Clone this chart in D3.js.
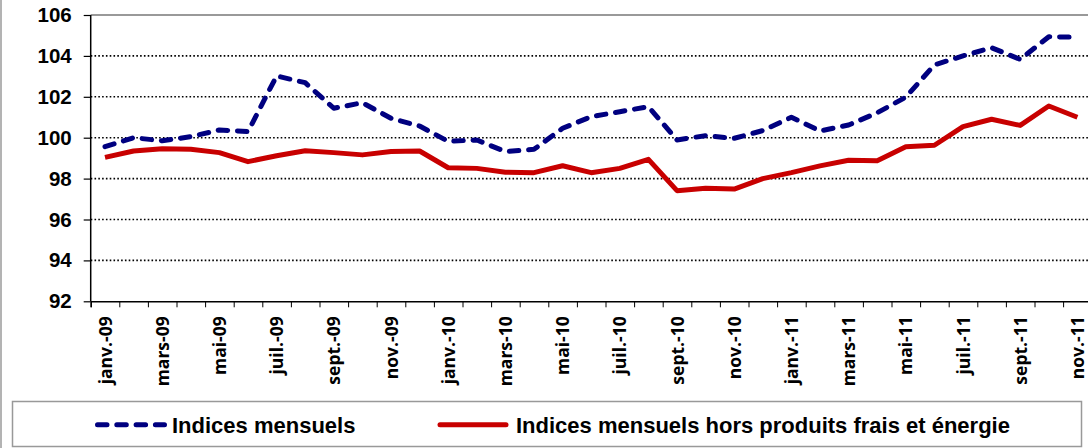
<!DOCTYPE html>
<html><head><meta charset="utf-8">
<script src="https://cdn.jsdelivr.net/npm/d3@7"></script>
<style>
html,body{margin:0;padding:0;background:#fff;}
svg{display:block;}
</style></head>
<body>
<svg id="chart" width="1088" height="448"></svg>
<script>
const months = ["janv.-09","févr.-09","mars-09","avr.-09","mai-09","juin-09","juil.-09","août-09","sept.-09","oct.-09","nov.-09","déc.-09",
"janv.-10","févr.-10","mars-10","avr.-10","mai-10","juin-10","juil.-10","août-10","sept.-10","oct.-10","nov.-10","déc.-10",
"janv.-11","févr.-11","mars-11","avr.-11","mai-11","juin-11","juil.-11","août-11","sept.-11","oct.-11","nov.-11"];
const indicesMensuels = [99.56,100.0,99.85,100.05,100.38,100.3,103.02,102.69,101.44,101.71,100.95,100.57,
99.82,99.89,99.32,99.43,100.46,101.03,101.27,101.52,99.89,100.1,99.97,100.35,
101.0,100.33,100.62,101.22,101.98,103.56,104.0,104.4,103.83,104.94,104.91];
const indicesHorsPFE = [99.04,99.35,99.46,99.43,99.27,98.83,99.12,99.36,99.27,99.16,99.33,99.35,
98.53,98.5,98.31,98.29,98.63,98.29,98.5,98.94,97.41,97.53,97.49,98.0,
98.29,98.62,98.9,98.87,99.56,99.63,100.54,100.9,100.6,101.55,101.0];
const yTicks = [92,94,96,98,100,102,104,106];
const seriesNames = ["Indices mensuels","Indices mensuels hors produits frais et énergie"];

const svg = d3.select("#chart");
const L = 90.7, R = 1091.7, T = 15, B = 301.3;
const x = d3.scaleBand().domain(months).range([L, R]).padding(0);
const xi = d3.scaleLinear().domain([0, months.length]).range([L, R]);
const y = d3.scaleLinear().domain([92, 106]).range([B, T]);

// outer border left
svg.append("line").attr("x1",1).attr("x2",1).attr("y1",0).attr("y2",448)
  .attr("stroke","#9a9a9a").attr("stroke-width",1.5);

// gridlines
svg.append("g").selectAll("line").data(yTicks.filter(d => d > 92 && d < 106)).join("line")
  .attr("x1", L).attr("x2", R).attr("y1", d => y(d)).attr("y2", d => y(d))
  .attr("stroke","#000").attr("stroke-width",1.6).attr("stroke-dasharray","1.6,2.2");
// top border
svg.append("line").attr("x1",L).attr("x2",R).attr("y1",y(106)).attr("y2",y(106))
  .attr("stroke","#999").attr("stroke-width",2);

// y axis
const yAxis = svg.append("g").attr("transform",`translate(${L},0)`)
  .call(d3.axisLeft(y).tickValues(yTicks).tickSize(7).tickPadding(12).tickFormat(d3.format("d")));
yAxis.select(".domain").remove();
yAxis.selectAll(".tick line").attr("stroke","#000").attr("stroke-width",1.2);
yAxis.selectAll("text").attr("font-family","'Liberation Sans', Arial, sans-serif")
  .attr("font-weight","bold").attr("font-size","20.5px").attr("fill","#000");
svg.append("line").attr("x1",L).attr("x2",L).attr("y1",T).attr("y2",B)
  .attr("stroke","#000").attr("stroke-width",1.5);

// x axis: boundary ticks
const xTickAxis = svg.append("g").attr("transform",`translate(0,${B})`)
  .call(d3.axisBottom(xi).tickValues(d3.range(0, months.length + 1)).tickSize(6).tickFormat(""));
xTickAxis.select(".domain").attr("stroke","#000").attr("stroke-width",1.5);
xTickAxis.selectAll(".tick line").attr("stroke","#000").attr("stroke-width",1);

// x labels
const xLab = svg.append("g").attr("transform",`translate(0,${B})`)
  .call(d3.axisBottom(x).tickValues(months.filter((d,i) => i % 2 === 0)).tickSize(0));
xLab.select(".domain").remove();
xLab.selectAll("text")
  .attr("font-family","'Open Sans', 'Noto Sans', sans-serif").attr("font-weight","bold")
  .attr("font-size","17.5px").attr("fill","#000")
  .attr("text-anchor","end").attr("dy",null).attr("y",null)
  .attr("transform","translate(6.5,15) rotate(-90)");

// lines
const line = d3.line().x((d,i) => x(months[i]) + x.bandwidth()/2).y(d => y(d));
svg.append("path").datum(indicesHorsPFE).attr("d", line).attr("fill","none")
  .attr("stroke","#c80000").attr("stroke-width",5).attr("stroke-linejoin","round");
svg.append("path").datum(indicesMensuels).attr("d", line).attr("fill","none")
  .attr("stroke","#000080").attr("stroke-width",5).attr("stroke-linejoin","round")
  .attr("stroke-linecap","round").attr("stroke-dasharray","9.5,9.8");

// legend
const lg = svg.append("g");
lg.append("rect").attr("x",12.5).attr("y",401.5).attr("width",1069).attr("height",45)
  .attr("fill","#fff").attr("stroke","#999").attr("stroke-width",1.5);
const ly = 424.7;
lg.append("line").attr("x1",97.5).attr("x2",164.5).attr("y1",ly).attr("y2",ly)
  .attr("stroke","#000080").attr("stroke-width",5).attr("stroke-linecap","round").attr("stroke-dasharray","9.5,9.8");
lg.append("line").attr("x1",440).attr("x2",506).attr("y1",ly).attr("y2",ly)
  .attr("stroke","#c80000").attr("stroke-width",5).attr("stroke-linecap","round");
lg.selectAll("text.lt").data(seriesNames).join("text").attr("class","lt")
  .attr("x",(d,i) => i === 0 ? 172 : 516).attr("y",433)
  .attr("font-family","'Liberation Sans', Arial, sans-serif").attr("font-weight","bold")
  .attr("font-size","22px").attr("fill","#000").text(d => d);
</script>
</body></html>
